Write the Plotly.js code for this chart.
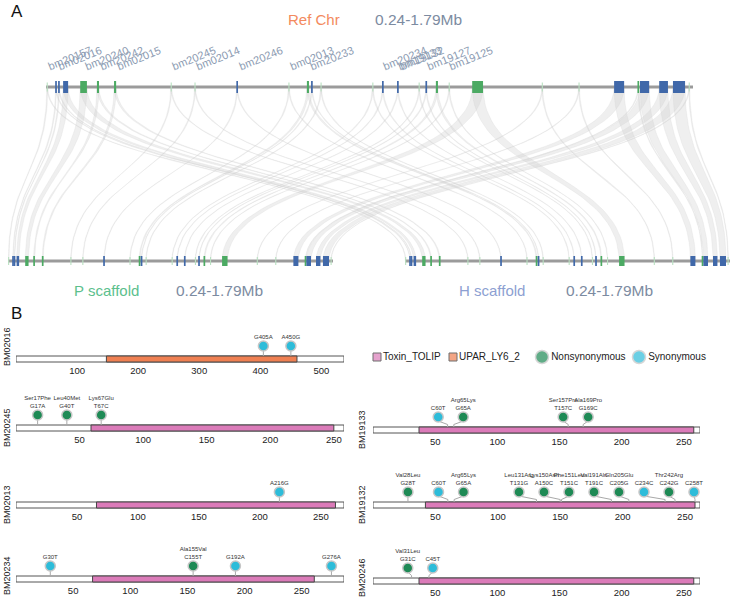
<!DOCTYPE html>
<html><head><meta charset="utf-8">
<script src="https://cdn.plot.ly/plotly-3.0.1.min.js"></script>
<style>html,body{margin:0;padding:0;background:#fff}#chart{width:732px;height:598px}</style>
</head><body><div id="chart"></div>
<script>
// ================= DATA =================
// Panel A: genes on the 0.24-1.79 Mb region (same coordinates on Ref Chr, P and H scaffolds)
const chrStart = 0.24, chrEnd = 1.79;
const geneStart = [0.242,0.263,0.270,0.281,0.322,0.362,0.403,0.539,0.596,0.697,0.821,0.865,0.876,0.898,1.022,1.046,1.082,1.133,1.150,1.174,1.205,1.261,1.428,1.516,1.601,1.658,1.663,1.709,1.742,1.780];
const geneEnd   = [0.244,0.265,0.272,0.293,0.338,0.367,0.408,0.541,0.598,0.699,0.823,0.870,0.878,0.900,1.024,1.048,1.084,1.135,1.152,1.179,1.207,1.287,1.430,1.518,1.625,1.660,1.685,1.730,1.771,1.782];
const geneType  = ['l','b','b','b','g','g','g','l','l','b','l','g','b','l','l','b','b','l','b','g','l','g','l','l','b','g','b','b','b','l'];
const labelName = ['bm20157','bm02016','bm20240','bm20242','bm02015','bm20245','bm02014','bm20246','bm02013','bm20233','bm20234','bm19133','bm19132','bm19127','bm19125'];
const labelPos  = [0.2448,0.2687,0.3334,0.3694,0.4101,0.5419,0.5994,0.7024,0.8246,0.8725,1.0473,1.0833,1.0881,1.1528,1.2055];
const trackNames = ['Ref Chr','P scaffold','H scaffold'];
const rangeText = '0.24-1.79Mb';

// Panel B: proteins
const protName   = ['BM02016','BM20245','BM02013','BM20234','BM19133','BM19132','BM20246'];
const protLength = [537,258,269,287,263,262,263];
const protDomain = ['UPAR_LY6_2','Toxin_TOLIP','Toxin_TOLIP','Toxin_TOLIP','Toxin_TOLIP','Toxin_TOLIP','Toxin_TOLIP'];
const domStart   = [148,59,66,67,37,42,37];
const domEnd     = [460,250,262,261,258,258,258];
const protTicks  = [[100,200,300,400,500],[50,100,150,200,250],[50,100,150,200,250],[50,100,150,200,250],[50,100,150,200,250],[50,100,150,200,250],[50,100,150,200,250]];

// mutations
const mutProt = [0,0, 1,1,1, 2, 3,3,3,3, 4,4,4,4, 5,5,5,5,5,5,5,5,5,5,5, 6,6];
const mutPos  = [405,450, 17,40,67, 216, 30,155,192,276, 60,65,157,169, 28,60,65,131,150,151,191,205,234,242,258, 31,45];
const mutAA   = ['','', 'Ser17Phe','Leu40Met','Lys67Glu', '', '','Ala155Val','','', '','Arg65Lys','Ser157Pro','Ala169Pro',
                 'Val28Leu','','Arg65Lys','Leu131Arg','Lys150Asn','Phe151Leu','Val191Aln','Gln205Glu','','Thr242Arg','', 'Val31Leu',''];
const mutNT   = ['G405A','A450G', 'G17A','G40T','T67C', 'A216G', 'G30T','C155T','G192A','G276A', 'C60T','G65A','T157C','G169C',
                 'G28T','C60T','G65A','T131G','A150C','T151C','T191C','C205G','C234C','C242G','C258T', 'G31C','C45T'];
const mutType = ['S','S', 'N','N','N', 'S', 'S','N','S','S', 'S','N','N','N', 'N','S','N','N','N','N','N','N','S','N','S', 'N','S'];

const legendNames = ['Toxin_TOLIP','UPAR_LY6_2','Nonsynonymous','Synonymous'];

// ================= STYLE / LAYOUT CONSTANTS =================
const W = 732, H = 598;
const FONT = 'Liberation Sans, Arial, sans-serif';
const fx = px => px / W, fy = py => 1 - py / H;
const COL = {b:'#4068a9', g:'#4caa63', l:'#b9e0c1'};
const PINK = '#db7bb9', ORANGE = '#ef8052', GREEN = '#1e8a55', CYAN = '#2dbcd9';
const domColor = n => n === 'Toxin_TOLIP' ? PINK : ORANGE;
const TR = [{x0:46,x1:693,y:87},{x0:8,x1:333,y:261},{x0:405,x1:730,y:261}];
const mapX = (t, mb) => t.x0 + (mb - chrStart) / (chrEnd - chrStart) * (t.x1 - t.x0);

const traces = [];
const shapes = [];
const annotations = [];

// ---------- Panel A ribbons ----------
function bez(a, b, y0, y1, n) {
  const ym = (y0 + y1) / 2, xs = [], ys = [];
  for (let i = 0; i <= n; i++) {
    const t = i / n, u = 1 - t;
    xs.push(a * (u*u*u + 3*u*u*t) + b * (3*u*t*t + t*t*t));
    ys.push(y0 * u*u*u + ym * (3*u*u*t + 3*u*t*t) + y1 * t*t*t);
  }
  return [xs, ys];
}
for (let i = 0; i < geneStart.length; i++) {
  for (const k of [1, 2]) {
    let a0 = mapX(TR[0], geneStart[i]), a1 = mapX(TR[0], geneEnd[i]);
    let b0 = mapX(TR[k], geneStart[i]), b1 = mapX(TR[k], geneEnd[i]);
    if (a1 - a0 < 1) { const c = (a0 + a1) / 2; a0 = c - 0.5; a1 = c + 0.5; }
    if (b1 - b0 < 0.6) { const c = (b0 + b1) / 2; b0 = c - 0.3; b1 = c + 0.3; }
    const L = bez(a0, b0, TR[0].y, TR[k].y, 40);
    const R = bez(a1, b1, TR[0].y, TR[k].y, 40);
    traces.push({
      x: L[0].concat(R[0].slice().reverse()), y: L[1].concat(R[1].slice().reverse()),
      xaxis: 'x', yaxis: 'y', mode: 'lines', fill: 'toself',
      fillcolor: 'rgba(205,205,205,0.32)', line: {color: 'rgba(205,205,205,0.4)', width: 0.5},
      hoverinfo: 'skip', showlegend: false
    });
  }
}
// tracks and genes
TR.forEach((t, k) => {
  shapes.push({type:'line', xref:'x', yref:'y', x0:t.x0, x1:t.x1, y0:t.y, y1:t.y, line:{color:'#9b9b9b', width:3}, layer:'above'});
  for (let i = 0; i < geneStart.length; i++) {
    let x0 = mapX(t, geneStart[i]), x1 = mapX(t, geneEnd[i]);
    const minW = geneType[i] === 'l' ? 1.1 : 1.7;
    if (x1 - x0 < minW) { const c = (x0 + x1) / 2; x0 = c - minW/2; x1 = c + minW/2; }
    const h = k === 0 ? (geneType[i] === 'l' ? 4.5 : 6) : (geneType[i] === 'l' ? 4 : 5);
    shapes.push({type:'rect', xref:'x', yref:'y', x0, x1, y0:t.y - h, y1:t.y + h,
      fillcolor: COL[geneType[i]], line:{width:0}, layer:'above'});
  }
});
// gene labels
labelName.forEach((n, i) => {
  annotations.push({xref:'x', yref:'y', x: mapX(TR[0], labelPos[i]), y: 75, xshift:-4, text: n, showarrow:false,
    xanchor:'left', yanchor:'bottom', textangle:-22, font:{family:FONT, size:11, color:'#8c9bb2'}});
});
// track titles
const titlePos = [[314,20],[106,290],[492,290]];
const titleCol = ['#f38a5e','#5cc08d','#8d9fd2'];
const rangePos = [[418,20],[219,290],[609,290]];
trackNames.forEach((n, k) => {
  annotations.push({xref:'paper', yref:'paper', x:fx(titlePos[k][0]), y:fy(titlePos[k][1]), text:n, showarrow:false,
    xanchor:'center', yanchor:'middle', font:{family:FONT, size:15, color:titleCol[k]}});
  annotations.push({xref:'paper', yref:'paper', x:fx(rangePos[k][0]), y:fy(rangePos[k][1]), text:rangeText, showarrow:false,
    xanchor:'center', yanchor:'middle', font:{family:FONT, size:15.5, color:'#7c8ba1'}});
});
annotations.push({xref:'paper', yref:'paper', x:fx(9), y:fy(12), text:'A', showarrow:false, xanchor:'left', yanchor:'middle', font:{family:FONT, size:17, color:'#111'}});
annotations.push({xref:'paper', yref:'paper', x:fx(9), y:fy(313), text:'B', showarrow:false, xanchor:'left', yanchor:'middle', font:{family:FONT, size:17, color:'#111'}});

const layout = {
  width: W, height: H, margin:{l:0, r:0, t:0, b:0}, paper_bgcolor:'#fff', plot_bgcolor:'rgba(0,0,0,0)',
  showlegend:false, font:{family:FONT},
  xaxis:{domain:[0,1], range:[0,W], visible:false, fixedrange:true},
  yaxis:{domain:[fy(300),1], range:[300,0], visible:false, fixedrange:true},
  shapes, annotations
};

// ---------- Panel B ----------
const colX = [[16,344],[373,700]];
const panelCol = [0,0,0,0,1,1,1];
const panelBarY = [359,428,505,579,430,505,581];
const labelX = [7,362];
const labelShift = [12,0,0,3,0,0,3];

// 1-D repel of lollipop heads: groups overlapping heads, spreads them by S, keeps them inside [lo, hi]
function repel(px, S, lo, hi) {
  let groups = px.map((p, i) => ({idx:[i], c:p}));
  const fit = g => {
    const half = (g.idx.length - 1) * S / 2;
    if (g.c + half > hi) g.c = hi - half;
    if (g.c - half < lo) g.c = lo + half;
  };
  groups.forEach(fit);
  let changed = true;
  while (changed) {
    changed = false;
    for (let g = 0; g < groups.length - 1; g++) {
      const a = groups[g], b = groups[g+1];
      const aEnd = a.c + (a.idx.length - 1) * S / 2, bSt = b.c - (b.idx.length - 1) * S / 2;
      if (bSt - aEnd < S - 0.01) {
        const idx = a.idx.concat(b.idx);
        const ng = {idx, c: idx.reduce((s, i) => s + px[i], 0) / idx.length};
        fit(ng);
        groups.splice(g, 2, ng);
        changed = true; break;
      }
    }
  }
  const out = [];
  groups.forEach(g => g.idx.forEach((i, k) => { out[i] = g.c + (k - (g.idx.length - 1) / 2) * S; }));
  return out;
}

protName.forEach((name, p) => {
  const k = p + 2, xa = 'x' + k, ya = 'y' + k;
  const [x0, x1] = colX[panelCol[p]], Yb = panelBarY[p], L = protLength[p];
  layout['xaxis' + k] = {domain:[fx(x0), fx(x1)], range:[0, L], anchor:ya, tickvals:protTicks[p],
    showgrid:false, zeroline:false, showline:false, ticks:'', fixedrange:true,
    tickfont:{family:FONT, size:9.5, color:'#222'}};
  layout['yaxis' + k] = {domain:[fy(Yb + 4), fy(Yb - 34)], range:[-4, 34], anchor:xa, visible:false, fixedrange:true};
  shapes.push({type:'rect', xref:xa, yref:ya, x0:0, x1:L, y0:-3, y1:3, fillcolor:'#fff', line:{color:'#555', width:1}, layer:'below'});
  shapes.push({type:'rect', xref:xa, yref:ya, x0:domStart[p], x1:domEnd[p], y0:-3, y1:3, fillcolor:domColor(protDomain[p]), line:{color:'#444', width:1}, layer:'below'});
  annotations.push({xref:'paper', yref:ya, x:fx(labelX[panelCol[p]]), y:0, yshift: labelShift[p], text:name, showarrow:false,
    textangle:-90, xanchor:'center', yanchor:'middle', font:{family:FONT, size:9, color:'#222'}});

  const ids = mutProt.map((m, i) => m === p ? i : -1).filter(i => i >= 0);
  const scale = (x1 - x0) / L;
  const pxPos = ids.map(i => x0 + mutPos[i] * scale);
  const cx = repel(pxPos, 25, x0 + 6, x1 - 6).map(v => (v - x0) / scale);
  const sx = [], sy = [];
  ids.forEach((i, j) => { sx.push(mutPos[i], mutPos[i], cx[j], cx[j], null); sy.push(3, 5.5, 9, 13, null); });
  traces.push({x:sx, y:sy, xaxis:xa, yaxis:ya, mode:'lines', line:{color:'#a9a9a9', width:1}, hoverinfo:'skip', cliponaxis:false});
  traces.push({x:cx, y:ids.map(() => 13), xaxis:xa, yaxis:ya, mode:'markers', cliponaxis:false, hoverinfo:'skip',
    marker:{size:10, color:ids.map(i => mutType[i] === 'N' ? GREEN : CYAN), line:{color:'#c6c6c6', width:1.5}}});
  traces.push({x:cx, y:ids.map(() => 18.5), xaxis:xa, yaxis:ya, mode:'text', cliponaxis:false, hoverinfo:'skip',
    text:ids.map(i => mutAA[i] ? mutAA[i] + '<br>' + mutNT[i] : mutNT[i]), textposition:'top center',
    textfont:{family:FONT, size:6, color:'#333'}});
});

// legend row (custom)
const legX = [377, 453, 542, 639];
layout.xaxis9 = {domain:[0,1], range:[0,W], anchor:'y9', visible:false, fixedrange:true};
layout.yaxis9 = {domain:[fy(366), fy(348)], range:[-1,1], anchor:'x9', visible:false, fixedrange:true};
traces.push({x:legX, y:[0,0,0,0], xaxis:'x9', yaxis:'y9', mode:'markers+text', cliponaxis:false, hoverinfo:'skip',
  text:legendNames, textposition:'middle right', textfont:{family:FONT, size:10, color:'#222'},
  marker:{symbol:['square','square','circle','circle'], size:[8,8,13,13], color:[PINK, ORANGE, GREEN, CYAN],
    line:{color:['#333','#333','#c6c6c6','#c6c6c6'], width:[1,1,1.5,1.5]}}});

Plotly.newPlot('chart', traces, layout, {displayModeBar:false, staticPlot:true});
</script></body></html>
